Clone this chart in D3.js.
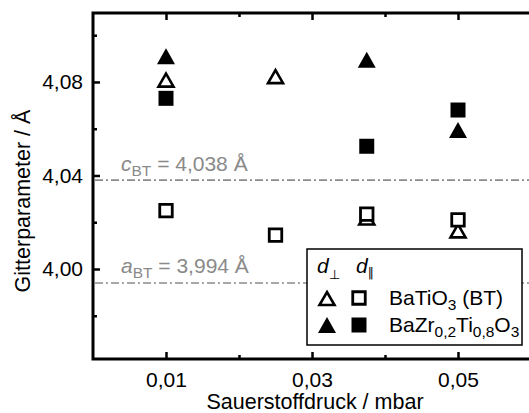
<!DOCTYPE html>
<html><head><meta charset="utf-8">
<script src="https://cdn.jsdelivr.net/npm/d3@7"></script>
<style>
body{margin:0;background:#fff;}
text{font-family:"Liberation Sans",Arial,sans-serif;}
</style></head>
<body><svg id="c" width="529" height="413"></svg>
<script>
// ---- data ----
const pressure = [0.01, 0.025, 0.0375, 0.05];
const btPerp  = [4.081, 4.0825, 4.022, 4.0165];   // open triangles
const btPara  = [4.025, 4.0145, 4.0235, 4.021];   // open squares
const bztPerp = [4.091, null, 4.0895, 4.0595];    // filled triangles
const bztPara = [4.073, null, 4.0525, 4.068];     // filled squares
const xMajor = [0.01, 0.03, 0.05];
const xMinor = [0.02, 0.04];
const yMajor = [4.00, 4.04, 4.08];
const yMinor = [3.98, 4.02, 4.06, 4.10];
const cBT = 4.038, aBT = 3.994;
const cLabel = "4,038 Å", aLabel = "3,994 Å";
const legendNames = ["BaTiO3 (BT)", "BaZr0,2Ti0,8O3"];

// ---- layout ----
const L = 93, T = 13, R = 531, B = 359;
const svg = d3.select("#c");
const x = d3.scaleLinear().domain([0, 0.06]).range([L, R]);
const y = d3.scaleLinear().domain([3.9615, 4.1095]).range([B, T]);
const loc = d3.formatLocale({decimal: ",", thousands: ".", grouping: [3], currency: ["", ""]});
const fx = loc.format(".2f");
const FS = 21, SUB = 15.5;

function styleAxis(g){
  g.select(".domain").remove();
  g.selectAll(".tick line").attr("stroke", "#000").attr("stroke-width", 2.5);
  g.selectAll("text").attr("font-size", FS).attr("fill", "#000").attr("font-family", '"Liberation Sans",Arial,sans-serif');
}
// bottom
svg.append("g").attr("transform", `translate(0,${B})`)
  .call(d3.axisBottom(x).tickValues(xMajor).tickFormat(fx).tickSizeInner(-7).tickSizeOuter(0).tickPadding(13)).call(styleAxis);
svg.append("g").attr("transform", `translate(0,${B})`)
  .call(d3.axisBottom(x).tickValues(xMinor).tickFormat("").tickSizeInner(-4).tickSizeOuter(0)).call(styleAxis);
// top
svg.append("g").attr("transform", `translate(0,${T})`)
  .call(d3.axisTop(x).tickValues(xMajor).tickFormat("").tickSizeInner(-7).tickSizeOuter(0)).call(styleAxis);
svg.append("g").attr("transform", `translate(0,${T})`)
  .call(d3.axisTop(x).tickValues(xMinor).tickFormat("").tickSizeInner(-4).tickSizeOuter(0)).call(styleAxis);
// left
svg.append("g").attr("transform", `translate(${L},0)`)
  .call(d3.axisLeft(y).tickValues(yMajor).tickFormat(fx).tickSizeInner(-7).tickSizeOuter(0).tickPadding(10)).call(styleAxis);
svg.append("g").attr("transform", `translate(${L},0)`)
  .call(d3.axisLeft(y).tickValues(yMinor).tickFormat("").tickSizeInner(-4).tickSizeOuter(0)).call(styleAxis);

// frame
svg.append("rect").attr("x", L).attr("y", T).attr("width", R - L).attr("height", B - T)
  .attr("fill", "none").attr("stroke", "#000").attr("stroke-width", 3);

// reference lines
const refs = [{v: cBT, sym: "c", txt: cLabel, dy: -9}, {v: aBT, sym: "a", txt: aLabel, dy: -10}];
refs.forEach(r => {
  svg.append("line").attr("x1", L + 2).attr("x2", R).attr("y1", y(r.v)).attr("y2", y(r.v))
    .attr("stroke", "#8a8a8a").attr("stroke-width", 1.6).attr("stroke-dasharray", "8,3,2,3");
  const t = svg.append("text").attr("x", 121).attr("y", y(r.v) + r.dy).attr("font-size", FS).attr("fill", "#8a8a8a");
  t.append("tspan").attr("font-style", "italic").text(r.sym);
  t.append("tspan").attr("font-size", SUB).attr("dy", 5).text("BT");
  t.append("tspan").attr("dy", -5).text(" = " + r.txt);
});

// symbols
function tri(cx, cy, w, h){ return `M${cx - w/2},${cy + h/2}L${cx + w/2},${cy + h/2}L${cx},${cy - h/2}Z`; }
function sq(cx, cy, s){ return `M${cx - s/2},${cy - s/2}h${s}v${s}h${-s}Z`; }
function drawTri(g, cx, cy, filled){
  if (filled) g.append("path").attr("d", tri(cx, cy, 18, 16)).attr("fill", "#000");
  else g.append("path").attr("d", tri(cx, cy + 0.5, 15, 13)).attr("fill", "#fff").attr("stroke", "#000").attr("stroke-width", 2.6).attr("stroke-linejoin", "miter");
}
function drawSq(g, cx, cy, filled){
  if (filled) g.append("path").attr("d", sq(cx, cy, 15)).attr("fill", "#000");
  else g.append("path").attr("d", sq(cx, cy, 12.5)).attr("fill", "#fff").attr("stroke", "#000").attr("stroke-width", 2.8);
}
const gm = svg.append("g");
pressure.forEach((p, i) => { if (btPerp[i] != null) drawTri(gm, x(p), y(btPerp[i]), false); });
pressure.forEach((p, i) => { if (btPara[i] != null) drawSq(gm, x(p), y(btPara[i]), false); });
pressure.forEach((p, i) => { if (bztPerp[i] != null) drawTri(gm, x(p), y(bztPerp[i]), true); });
pressure.forEach((p, i) => { if (bztPara[i] != null) drawSq(gm, x(p), y(bztPara[i]), true); });

// legend
const lg = svg.append("g");
lg.append("rect").attr("x", 307).attr("y", 249).attr("width", 215).attr("height", 96)
  .attr("fill", "#fff").attr("stroke", "#000").attr("stroke-width", 1.5);
const h1 = lg.append("text").attr("x", 317).attr("y", 273).attr("font-size", FS);
h1.append("tspan").attr("font-style", "italic").text("d");
h1.append("tspan").attr("font-size", 13).attr("dy", 6).text("⊥");
const h2 = lg.append("text").attr("x", 356).attr("y", 273).attr("font-size", FS);
h2.append("tspan").attr("font-style", "italic").text("d");
h2.append("tspan").attr("font-size", 12).attr("dy", 4).attr("font-family", "DejaVu Sans").text("‖");
const rows = [298, 325];
drawTri(lg, 327, rows[0], false); drawSq(lg, 359, rows[0], false);
drawTri(lg, 327, rows[1], true);  drawSq(lg, 359, rows[1], true);
function chem(txt, yy){
  const t = lg.append("text").attr("x", 389).attr("y", yy + 7).attr("font-size", FS);
  const parts = txt.match(/[A-Za-z() ]+|[0-9,]+/g);
  let sub = false;
  parts.forEach(s => {
    const isNum = /^[0-9,]+$/.test(s);
    const ts = t.append("tspan").text(s);
    if (isNum && !sub) { ts.attr("font-size", SUB).attr("dy", 5); sub = true; }
    else if (!isNum && sub) { ts.attr("dy", -5); sub = false; }
  });
}
chem(legendNames[0], rows[0]);
chem(legendNames[1], rows[1]);

// axis titles
svg.append("text").attr("x", 315).attr("y", 409).attr("text-anchor", "middle").attr("font-size", 21.5).text("Sauerstoffdruck / mbar");
svg.append("text").attr("transform", "translate(30,201) rotate(-90)").attr("text-anchor", "middle").attr("font-size", 21.5).text("Gitterparameter / Å");
</script></body></html>
